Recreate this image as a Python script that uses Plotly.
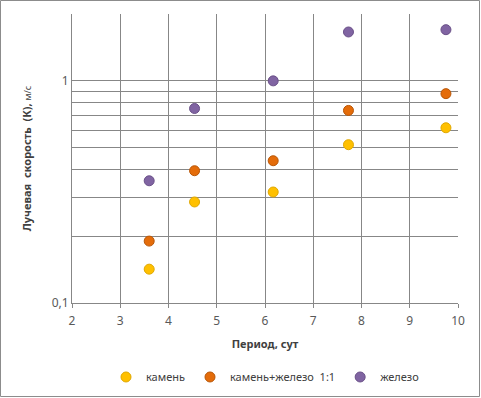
import plotly.graph_objects as go

period = [3.60, 4.54, 6.17, 7.73, 9.75]
kamen = [0.142, 0.285, 0.316, 0.516, 0.615]
kamen_zhelezo = [0.19, 0.394, 0.437, 0.736, 0.876]
zhelezo = [0.355, 0.751, 1.0, 1.66, 1.70]

series_names = ["камень", "камень+железо  1:1", "железо"]
colors = ["#FFC000", "#E46C0A", "#8064A2"]
edges = ["#E0A800", "#B85607", "#6A5088"]

y_tickvals = [0.1, 0.2, 0.3, 0.4, 0.5, 0.6, 0.7, 0.8, 0.9, 1, 2]
y_ticktext = ["0,1", "", "", "", "", "", "", "", "", "1", ""]
x_tickvals = [2, 3, 4, 5, 6, 7, 8, 9, 10]

fig = go.Figure()
for name, ys, c, e in zip(series_names, [kamen, kamen_zhelezo, zhelezo], colors, edges):
    fig.add_trace(go.Scatter(
        x=period, y=ys, mode="markers", name=name,
        marker=dict(size=10, color=c, line=dict(color=e, width=1)),
    ))

font_family = "Noto Sans, Open Sans, sans-serif"
grid = "#878787"

fig.update_layout(
    width=481, height=398,
    margin=dict(l=72, r=23, t=14, b=95, autoexpand=False),
    paper_bgcolor="white", plot_bgcolor="white",
    font=dict(family=font_family, size=11, color="#404040"),
    showlegend=True,
    legend=dict(orientation="h", x=0.5, xanchor="center", y=-0.256, yanchor="middle",
                font=dict(size=11, color="#404040"), itemwidth=30,
                bgcolor="rgba(0,0,0,0)", tracegroupgap=0),
    xaxis=dict(range=[2, 10], tickvals=x_tickvals, showgrid=True, gridcolor=grid,
               gridwidth=1, zeroline=False, showline=True, linecolor=grid,
               ticks="outside", ticklen=4, tickcolor=grid, automargin=False,
               ticklabelstandoff=3,
               tickfont=dict(size=12, color="#595959"),
               title=dict(text="<b>Период, сут</b>", font=dict(size=11, color="#404040"),
                          standoff=11)),
    yaxis=dict(type="log", range=[-1, 0.30103], tickvals=y_tickvals, ticktext=y_ticktext,
               showgrid=True, gridcolor=grid, gridwidth=1, zeroline=False,
               showline=True, linecolor=grid, automargin=False,
               tickfont=dict(size=12, color="#595959"),
               title=dict(text="<b>Лучевая  скорость  (К),</b> <span style='font-size:9px'>м/с</span>",
                          font=dict(size=11, color="#404040"), standoff=17)),
    shapes=[dict(type="rect", xref="paper", yref="paper",
                 x0=-71.5/386, x1=1 + 21.5/386, y0=-93.5/289, y1=1 + 13.5/289,
                 line=dict(color="#8C8C8C", width=1), fillcolor="rgba(0,0,0,0)", layer="below")],
)

fig.write_html("out.html", config={"displayModeBar": False},
               post_script="document.body.style.margin='0';")
